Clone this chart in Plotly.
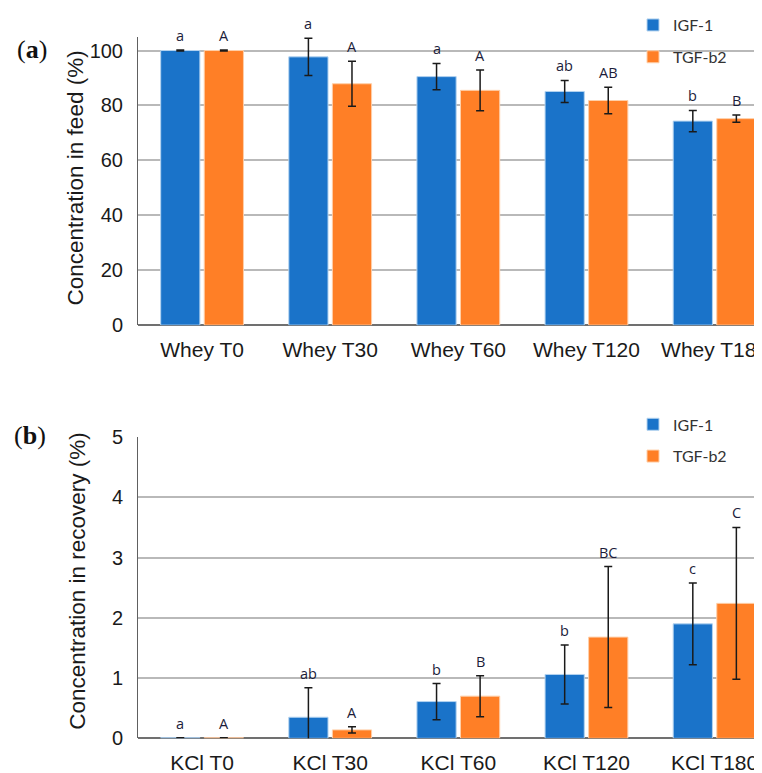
import plotly.graph_objects as go

# ---------------- data ----------------
whey_cats = ["Whey T0", "Whey T30", "Whey T60", "Whey T120", "Whey T180"]
kcl_cats = ["KCl T0", "KCl T30", "KCl T60", "KCl T120", "KCl T180"]

feed_igf = [100.0, 97.7, 90.5, 85.1, 74.3]
feed_igf_err = [0.15, 6.8, 4.8, 4.0, 3.9]
feed_tgf = [100.0, 87.9, 85.5, 81.8, 75.2]
feed_tgf_err = [0.15, 8.2, 7.4, 4.8, 1.3]
feed_igf_sig = ["a", "a", "a", "ab", "b"]
feed_tgf_sig = ["A", "A", "A", "AB", "B"]

rec_igf = [0.01, 0.35, 0.61, 1.06, 1.90]
rec_igf_err = [0.0, 0.49, 0.30, 0.49, 0.68]
rec_tgf = [0.01, 0.14, 0.70, 1.68, 2.24]
rec_tgf_err = [0.0, 0.05, 0.34, 1.17, 1.26]
rec_igf_sig = ["a", "ab", "b", "b", "c"]
rec_tgf_sig = ["A", "A", "B", "BC", "C"]

series_names = ["IGF-1", "TGF-b2"]
y_titles = ["Concentration in feed (%)", "Concentration in recovery (%)"]

# ---------------- style ----------------
BLUE = "#1a73c9"
ORANGE = "#ff7f26"
BLUE_EDGE = "#b3d3f0"
ORANGE_EDGE = "#ffcfa8"
# page body has an 8px margin, so the figure is shifted by 8px
OFF = 8
W, H = 762 - OFF, 773 - OFF


def fx(px):
    return (px - OFF) / W


def fy(py):
    return 1 - (py - OFF) / H


BARGAP = 0.32
SLOT = (1 - BARGAP) / 2
XTICKFONT = dict(family="Liberation Sans, Arial", size=21, color="#1a1a1a")
YTICKFONT = dict(family="Liberation Sans, Arial", size=20, color="#1a1a1a")
TITLEFONT = dict(family="Liberation Sans, Arial", size=22.5, color="#1a1a1a")
SIGFONT = dict(family="Open Sans", size=14.5, color="#1c1c3a")
ERR = dict(type="data", color="#1a1a1a", thickness=1.5, width=4)

fig = go.Figure()


def add_panel(cats, igf, igf_err, tgf, tgf_err, xa, ya, legend):
    for name, vals, errs, col, edge in [
        (series_names[0], igf, igf_err, BLUE, BLUE_EDGE),
        (series_names[1], tgf, tgf_err, ORANGE, ORANGE_EDGE),
    ]:
        fig.add_trace(go.Bar(
            x=cats, y=vals, name=name,
            marker=dict(color=col, line=dict(color=edge, width=1)),
            error_y=dict(array=errs, **ERR),
            xaxis=xa, yaxis=ya, legend=legend, legendgroup=name + legend,
        ))


add_panel(whey_cats, feed_igf, feed_igf_err, feed_tgf, feed_tgf_err, "x", "y", "legend")
add_panel(kcl_cats, rec_igf, rec_igf_err, rec_tgf, rec_tgf_err, "x2", "y2", "legend2")

annotations = []


def add_sig(vals_list, err_list, sig_list, offset, xref, yref):
    for i, (v, e, s) in enumerate(zip(vals_list, err_list, sig_list)):
        annotations.append(dict(
            x=i + offset, y=v + e, xref=xref, yref=yref, text=s,
            showarrow=False, xanchor="center", yanchor="bottom", yshift=3,
            font=SIGFONT,
        ))


add_sig(feed_igf, feed_igf_err, feed_igf_sig, -SLOT / 2, "x", "y")
add_sig(feed_tgf, feed_tgf_err, feed_tgf_sig, SLOT / 2, "x", "y")
add_sig(rec_igf, rec_igf_err, rec_igf_sig, -SLOT / 2, "x2", "y2")
add_sig(rec_tgf, rec_tgf_err, rec_tgf_sig, SLOT / 2, "x2", "y2")

PANEL_FONT = dict(family="Liberation Serif", size=26, color="#111")
annotations.append(dict(x=fx(32), y=fy(43), xref="paper", yref="paper",
                        xanchor="center", yanchor="middle",
                        text="(<b>a</b>)", showarrow=False, font=PANEL_FONT))
annotations.append(dict(x=fx(30), y=fy(432), xref="paper", yref="paper",
                        xanchor="center", yanchor="middle",
                        text="(<b>b</b>)", showarrow=False, font=PANEL_FONT))

# y-axis titles
annotations.append(dict(x=fx(75), y=fy(173), xref="paper", yref="paper",
                        xanchor="center", yanchor="middle", textangle=-90,
                        text=y_titles[0], showarrow=False, font=TITLEFONT))
annotations.append(dict(x=fx(78), y=fy(579), xref="paper", yref="paper",
                        xanchor="center", yanchor="middle", textangle=-90,
                        text=y_titles[1], showarrow=False, font=TITLEFONT))

x_dom = [fx(138), 1.0]
x_rng = [-0.5, 4.37]
xcommon = dict(domain=x_dom, range=x_rng, type="category", showgrid=False,
               showline=False, zeroline=False, tickfont=XTICKFONT,
               ticklabelstandoff=10, automargin=False, ticks="")
ycommon = dict(showgrid=True, gridcolor="#b9b9b9", gridwidth=1.5,
               showline=True, linecolor="#606060", linewidth=1,
               zeroline=True, zerolinecolor="#707070", zerolinewidth=2,
               tickfont=YTICKFONT, ticklabelstandoff=10, automargin=False,
               ticks="")

legcommon = dict(font=dict(family="Lato", size=16, color="#333333"),
                 tracegroupgap=8, bgcolor="rgba(0,0,0,0)",
                 xanchor="left", yanchor="top", itemwidth=30)

fig.update_layout(
    width=W, height=H,
    margin=dict(l=0, r=0, t=0, b=0),
    paper_bgcolor="white", plot_bgcolor="white",
    barmode="group", bargap=BARGAP, bargroupgap=0.1,
    xaxis=dict(anchor="y", **xcommon),
    yaxis=dict(anchor="x", domain=[fy(321), fy(30)], range=[0, 105],
               tickvals=[0, 20, 40, 60, 80, 100], **ycommon),
    xaxis2=dict(anchor="y2", **xcommon),
    yaxis2=dict(anchor="x2", domain=[fy(738), fy(434)], range=[0, 5],
                tickvals=[0, 1, 2, 3, 4, 5], **ycommon),
    legend=dict(x=fx(633), y=fy(1), **legcommon),
    legend2=dict(x=fx(633), y=fy(404), **legcommon),
    annotations=annotations,
)

fig.write_html("out.html")
